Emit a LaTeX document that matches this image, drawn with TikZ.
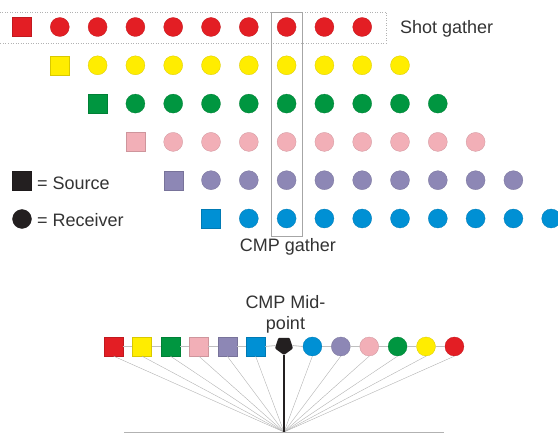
\documentclass[tikz,border=0pt]{standalone}
\usepackage{fontspec}
\setmainfont{Liberation Sans}
\usetikzlibrary{shapes.geometric}
\definecolor{cRed}{HTML}{E31E24}
\definecolor{cYel}{HTML}{FFED00}
\definecolor{cGrn}{HTML}{009640}
\definecolor{cPnk}{HTML}{F2AFB7}
\definecolor{cPur}{HTML}{8D87B5}
\definecolor{cBlu}{HTML}{0090D4}
\definecolor{cInk}{HTML}{231F20}
\definecolor{cTxt}{HTML}{333333}

\begin{document}
\begin{tikzpicture}[x=1pt,y=-1pt,
  src/.style={rectangle, minimum size=19pt, inner sep=0pt, fill=#1, draw=#1!85!black, line width=0.3pt},
  rcv/.style={circle, minimum size=19pt, inner sep=0pt, fill=#1, draw=#1!85!black, line width=0.3pt},
  lbl/.style={font=\fontsize{18}{21}\selectfont, text=cTxt, inner sep=0pt},
  ray/.style={draw=black!30, line width=0.4pt},
  link/.style={draw=black!25, line width=0.8pt},
  shotbox/.style={draw=black!30, dotted, line width=0.5pt},
  cmpbox/.style={draw=black!35, line width=0.6pt},
  ground/.style={draw=black!30, line width=0.8pt}
]
\useasboundingbox (0,0) rectangle (558,433);

% gather outlines
\draw[shotbox] (-1,12) rectangle (386,43);
\draw[cmpbox] (271,12) rectangle (302,236);

% shots: one source followed by nine receivers, each row shifted one station
\foreach \c [count=\i from 0] in {cRed,cYel,cGrn,cPnk,cPur,cBlu} {
  \node[src=\c] (s\i) at ({22+37.8*\i},{27+38.3*\i}) {};
  \foreach \k in {1,...,9}
    \node[rcv=\c] (r\i-\k) at ({22+37.8*(\i+\k)},{27+38.3*\i}) {};
}

% labels and legend
\node[lbl, anchor=base west] (shot) at (400,33.5) {Shot gather};
\node[lbl, anchor=base] (cmpg) at (288,252) {CMP gather};
\node[src=cInk] (legS) at (22,181) {};
\node[lbl, anchor=base west] (legSt) at (37,189.5) {= Source};
\node[rcv=cInk] (legR) at (22,219) {};
\node[lbl, anchor=base west] (legRt) at (37,226.7) {= Receiver};
\node[lbl, align=center, anchor=south] (mid) at (285.5,333.1) {CMP Mid-\\point};

% common midpoint spread
\foreach \c [count=\j] in {cRed,cYel,cGrn,cPnk,cPur,cBlu}
  \node[src=\c] (bs\j) at ({284-28.4*(7-\j)},346.5) {};
\node[regular polygon, regular polygon sides=5, shape border rotate=180,
      minimum size=19pt, inner sep=0pt, fill=cInk, rounded corners=1pt] (cmp) at (284,345.5) {};
\foreach \c [count=\j] in {cBlu,cPur,cPnk,cGrn,cYel,cRed}
  \node[rcv=\c] (br\j) at ({284+28.4*\j},346.5) {};

\foreach \a/\b in {bs1/bs2,bs2/bs3,bs3/bs4,bs4/bs5,bs5/bs6,bs6/cmp,cmp/br1,br1/br2,br2/br3,br3/br4,br4/br5,br5/br6}
  \draw[link] (\a.east) -- (\b.west);

\coordinate (g) at (284,432);
\coordinate (gl) at (124,432);
\coordinate (gr) at (444,432);
\foreach \n in {bs1,bs2,bs3,bs4,bs5,bs6,br1,br2,br3,br4,br5,br6}
  \draw[ray] (\n.south) -- (g);
\draw[cInk, line width=2.4pt] (cmp.south) -- (g);
\draw[ground] (gl) -- (gr);
\end{tikzpicture}
\end{document}
